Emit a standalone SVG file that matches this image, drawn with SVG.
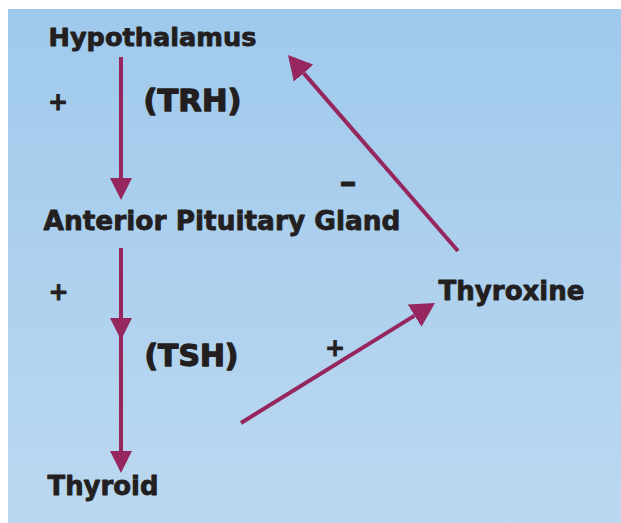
<svg xmlns="http://www.w3.org/2000/svg" width="621" height="523" viewBox="0 0 621 523">
<defs>
<linearGradient id="bg" x1="0" y1="0" x2="0" y2="1">
<stop offset="0" stop-color="#9fc9ec"/>
<stop offset="1" stop-color="#bcd8f0"/>
</linearGradient>
<marker id="ah" markerUnits="userSpaceOnUse" markerWidth="22" markerHeight="22" viewBox="0 0 22 22" refX="0" refY="11" orient="auto">
<path d="M0,0 L22,11 L0,22 z" fill="#95275e"/>
</marker>
<marker id="ahd" markerUnits="userSpaceOnUse" markerWidth="24" markerHeight="26" viewBox="0 0 24 26" refX="0" refY="13" orient="auto">
<path d="M0,0 L24,13 L0,26 z" fill="#95275e"/>
</marker>
<style>
.lbl{font-family:"DejaVu Sans","Liberation Sans",sans-serif;font-weight:bold;fill:#231f20;stroke:#231f20;stroke-width:0.8;stroke-linejoin:round;}
.big{stroke-width:1.3;}
.conn{stroke:#95275e;stroke-width:4;fill:none;}
</style>
</defs>
<rect x="8" y="9" width="613" height="514" fill="url(#bg)"/>
<g id="connectors">
<path class="conn" d="M121,57 L121,178" marker-end="url(#ah)"/>
<path class="conn" d="M121,248 L121,318 L121,451" marker-mid="url(#ah)" marker-end="url(#ah)"/>
<path class="conn" d="M458,251 L303.7,73.1" marker-end="url(#ahd)"/>
<path class="conn" d="M241,423 L414.6,315.6" marker-end="url(#ahd)"/>
</g>
<g id="hypothalamus"><text class="lbl" x="48.5" y="46" font-size="25" textLength="208" lengthAdjust="spacingAndGlyphs">Hypothalamus</text></g>
<g id="pituitary"><text class="lbl" x="43.5" y="230" font-size="26" textLength="357" lengthAdjust="spacingAndGlyphs">Anterior Pituitary Gland</text></g>
<g id="thyroid"><text class="lbl" x="47.5" y="495" font-size="26" textLength="111" lengthAdjust="spacingAndGlyphs">Thyroid</text></g>
<g id="thyroxine"><text class="lbl" x="438.5" y="300" font-size="26" textLength="146" lengthAdjust="spacingAndGlyphs">Thyroxine</text></g>
<g id="labels">
<text class="lbl big" x="143.5" y="111" font-size="30" textLength="98" lengthAdjust="spacingAndGlyphs">(TRH)</text>
<text class="lbl big" x="144.5" y="366" font-size="30" textLength="94" lengthAdjust="spacingAndGlyphs">(TSH)</text>
<text class="lbl" x="58" y="109.5" font-size="24" text-anchor="middle" stroke-width="1.5">+</text>
<text class="lbl" x="58.5" y="300" font-size="24" text-anchor="middle" stroke-width="1.5">+</text>
<text class="lbl" x="335" y="355.5" font-size="24" text-anchor="middle" stroke-width="1.5">+</text>
<text class="lbl" x="339.5" y="193" font-size="32" textLength="17" lengthAdjust="spacingAndGlyphs" stroke-width="2">–</text>
</g>
</svg>
